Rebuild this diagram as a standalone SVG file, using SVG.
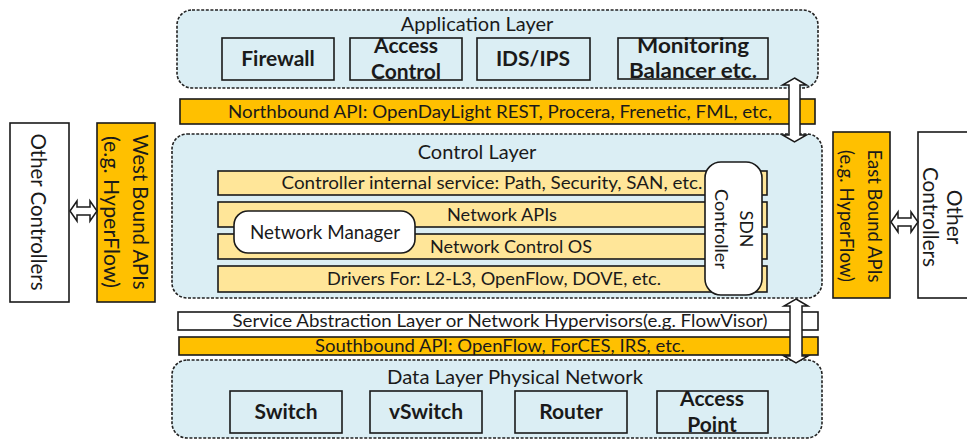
<svg xmlns="http://www.w3.org/2000/svg" width="967" height="441" viewBox="0 0 967 441">
<style>
text{font-family:Lato,"Liberation Sans",sans-serif;fill:#1a1a1a;text-anchor:middle}
.layer{fill:#dbeef4;stroke:#222;stroke-width:1.6;stroke-dasharray:3 1.6}
.box{fill:#dbeef4;stroke:#1a1a1a;stroke-width:1.6}
.org{fill:#ffc000;stroke:#1a1a1a;stroke-width:1.6}
.wht{fill:#fff;stroke:#1a1a1a;stroke-width:1.6}
.ylw{fill:#ffe699;stroke:#1a1a1a;stroke-width:1.6}
.arr{fill:#fff;stroke:#1a1a1a;stroke-width:1.5;stroke-linejoin:miter}
.t20{font-size:20px}
.t21{font-size:21px}
.t19{font-size:19px}
.t18{font-size:18px}
.t17{font-size:17px}
.b{font-size:21px;font-weight:bold}
.v{dominant-baseline:central}
</style>

<g id="application-layer">
<rect class="layer" x="177" y="10" width="641" height="78" rx="15"/>
<text class="t20" x="477" y="31">Application Layer</text>
</g>
<g id="firewall"><rect class="box" x="222" y="38" width="112" height="42"/><text class="b" x="278" y="66">Firewall</text></g>
<g id="access-control"><rect class="box" x="350" y="38" width="112" height="42"/><text class="b" x="406" y="53">Access</text><text class="b" x="406" y="79">Control</text></g>
<g id="ids-ips"><rect class="box" x="477" y="38" width="113" height="42"/><text class="b" x="533" y="66">IDS/IPS</text></g>
<g id="monitoring"><rect class="box" x="618" y="38" width="150" height="41"/><text class="b" x="693" y="53" textLength="112" lengthAdjust="spacingAndGlyphs">Monitoring</text><text class="b" x="693" y="78" textLength="128" lengthAdjust="spacingAndGlyphs">Balancer etc.</text></g>

<g id="northbound-api"><rect class="org" x="180" y="99" width="635" height="25"/><text class="t18" x="500" y="118" textLength="544" lengthAdjust="spacingAndGlyphs">Northbound API: OpenDayLight REST, Procera, Frenetic, FML, etc,</text></g>

<g id="control-layer">
<rect class="layer" x="172" y="134" width="650" height="164" rx="15"/>
<text class="t20" x="477" y="159">Control Layer</text>
</g>
<g id="internal-service"><rect class="ylw" x="218" y="171" width="549" height="24"/><text class="t18" x="492" y="189" textLength="421" lengthAdjust="spacingAndGlyphs">Controller internal service: Path, Security, SAN, etc.</text></g>
<g id="network-apis"><rect class="ylw" x="218" y="202" width="549" height="25"/><text class="t18" x="502" y="221" textLength="110" lengthAdjust="spacingAndGlyphs">Network APIs</text></g>
<g id="network-control-os"><rect class="ylw" x="218" y="234" width="549" height="25"/><text class="t18" x="511" y="253" textLength="162" lengthAdjust="spacingAndGlyphs">Network Control OS</text></g>
<g id="drivers"><rect class="ylw" x="218" y="266" width="549" height="26"/><text class="t18" x="494" y="285" textLength="334" lengthAdjust="spacingAndGlyphs">Drivers For: L2-L3, OpenFlow, DOVE, etc.</text></g>
<g id="network-manager"><rect class="wht" x="234" y="211" width="181" height="42" rx="14"/><text class="t19" x="325" y="239" textLength="150" lengthAdjust="spacingAndGlyphs">Network Manager</text></g>
<g id="sdn-controller"><rect class="wht" x="705" y="162" width="57" height="133" rx="16"/>
<g transform="translate(733.5,229) rotate(90)"><text class="t18 v" x="0" y="-13">SDN</text><text class="t18 v" x="0" y="12" textLength="80" lengthAdjust="spacingAndGlyphs">Controller</text></g></g>

<g id="service-abstraction"><rect class="wht" x="178" y="312" width="640" height="18"/><text class="t17" x="500" y="327" textLength="535" lengthAdjust="spacingAndGlyphs">Service Abstraction Layer or Network Hypervisors(e.g. FlowVisor)</text></g>
<g id="southbound-api"><rect class="org" x="179" y="337" width="639" height="18"/><text class="t17" x="500" y="352" textLength="370" lengthAdjust="spacingAndGlyphs">Southbound API: OpenFlow, ForCES, IRS, etc.</text></g>

<g id="data-layer">
<rect class="layer" x="172" y="360" width="650" height="78" rx="15"/>
<text class="t20" x="515" y="384" textLength="256" lengthAdjust="spacingAndGlyphs">Data Layer Physical Network</text>
</g>
<g id="switch"><rect class="box" x="230" y="391" width="112" height="42"/><text class="b" x="286" y="419">Switch</text></g>
<g id="vswitch"><rect class="box" x="370" y="391" width="112" height="42"/><text class="b" x="426" y="419">vSwitch</text></g>
<g id="router"><rect class="box" x="515" y="391" width="112" height="42"/><text class="b" x="571" y="419">Router</text></g>
<g id="access-point"><rect class="box" x="657" y="391" width="111" height="42"/><text class="b" x="712" y="406">Access</text><text class="b" x="712" y="432">Point</text></g>

<g id="other-controllers-left"><rect class="wht" x="10" y="123" width="59" height="179"/>
<g transform="translate(39,212) rotate(90)"><text class="t21 v" x="0" y="0" textLength="157" lengthAdjust="spacingAndGlyphs">Other Controllers</text></g></g>
<g id="west-bound-apis"><rect class="org" x="97" y="123" width="58" height="179"/>
<g transform="translate(126,212) rotate(90)"><text class="t21 v" x="0" y="-15" textLength="155" lengthAdjust="spacingAndGlyphs">West Bound APIs</text><text class="t21 v" x="0" y="14" textLength="152" lengthAdjust="spacingAndGlyphs">(e.g. HyperFlow)</text></g></g>

<g id="east-bound-apis"><rect class="org" x="833" y="132" width="57" height="166"/>
<g transform="translate(861,216) rotate(90)"><text class="t19 v" x="0" y="-14" textLength="133" lengthAdjust="spacingAndGlyphs">East Bound APIs</text><text class="t19 v" x="0" y="14" textLength="132" lengthAdjust="spacingAndGlyphs">(e.g. HyperFlow)</text></g></g>
<g id="other-controllers-right"><rect class="wht" x="918" y="132" width="60" height="166"/>
<g transform="translate(943,217) rotate(90)"><text class="t21 v" x="0" y="-12">Other</text><text class="t21 v" x="0" y="12" textLength="100" lengthAdjust="spacingAndGlyphs">Controllers</text></g></g>

<g id="connectors">
<polygon class="arr" points="70,211 77,201 77,207 90,207 90,201 97,211 90,221 90,215 77,215 77,221"/>
<polygon class="arr" points="891,222 898,212 898,218 911,218 911,212 918,222 911,232 911,226 898,226 898,232"/>
<polygon class="arr" points="794.5,78 806.5,85 800,85 800,135 806.5,135 794.5,142 782.5,135 789,135 789,85 782.5,85"/>
<polygon class="arr" points="796,299 808,306 802,306 802,356 808,356 796,363 784,356 790,356 790,306 784,306"/>
</g>
</svg>
